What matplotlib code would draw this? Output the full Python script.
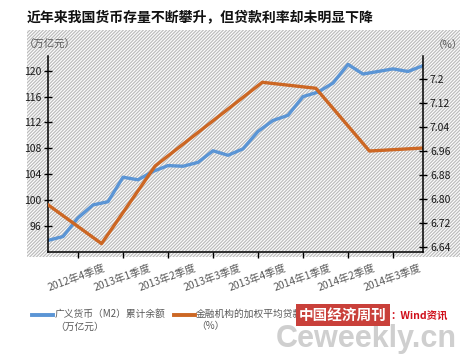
import numpy as np
import matplotlib
matplotlib.use('Agg')
import matplotlib.pyplot as plt
from matplotlib.patches import Rectangle
from matplotlib.lines import Line2D

plt.rcParams['font.family'] = ['Noto Sans CJK SC', 'DejaVu Sans']
plt.rcParams['hatch.linewidth'] = 0.9

# monthly M2 balance (万亿元), Oct 2012 .. Nov 2014
m2 = [93.7, 94.3, 97.2, 99.2, 99.7, 103.5, 103.1, 104.4, 105.3, 105.2,
      105.8, 107.6, 106.9, 107.9, 110.6, 112.3, 113.1, 116.0, 116.7, 118.1,
      121.0, 119.5, 119.9, 120.3, 119.9, 120.8]
# quarterly weighted average lending rate (%)
rate = [6.78, 6.65, 6.91, 7.05, 7.19, 7.17, 6.96, 6.97]
quarters = ['2012年4季度', '2013年1季度', '2013年2季度', '2013年3季度',
            '2013年4季度', '2014年1季度', '2014年2季度', '2014年3季度']
left_ticks = [96, 100, 104, 108, 112, 116, 120]
right_ticks = [6.64, 6.72, 6.80, 6.88, 6.96, 7.04, 7.12, 7.2]
right_labels = ['6.64', '6.72', '6.80', '6.88', '6.96', '7.04', '7.12', '7.2']

title = '近年来我国货币存量不断攀升，但贷款利率却未明显下降'
label_m2 = '广义货币（M2）累计余额\n（万亿元）'
label_rate = '金融机构的加权平均贷款利率\n（%）'

BLUE = '#5b95d5'
ORANGE = '#cc6724'
GREY = '#595959'

W, H = 464, 357
fig = plt.figure(figsize=(W / 100, H / 100), dpi=100)


def fx(px):
    return px / W


def fy(py):
    return 1 - py / H


# hatched background panel
bg = Rectangle((fx(27), fy(257)), fx(460) - fx(27), fy(30) - fy(257),
               transform=fig.transFigure, facecolor='white',
               edgecolor='#bdbdbd', hatch='//////////', linewidth=0,
               zorder=-10)
fig.patches.append(bg)

rect = [fx(48), fy(252), fx(423) - fx(48), fy(56) - fy(252)]
ax = fig.add_axes(rect, zorder=2)
ax.patch.set_visible(False)
months = np.arange(len(m2))
ax.plot(months, m2, color=BLUE, lw=2.4, solid_joinstyle='round')
ax.set_xlim(0, len(m2) - 1)
ax.set_ylim(91.9, 122.3)
ax.set_yticks(left_ticks)
ax.set_yticklabels([str(t) for t in left_ticks])
ax.tick_params(axis='y', direction='inout', length=6, width=1,
               labelsize=7.5, labelcolor='#1a1a1a', pad=2)
ax.set_xticks(np.arange(2, len(m2), 3))
ax.set_xticklabels([])
ax.set_xticks(np.arange(3.7, len(m2), 3), minor=True)
ax.set_xticklabels(quarters, minor=True, rotation=20, ha='right',
                   rotation_mode='anchor', fontsize=7.5, color=GREY)
ax.tick_params(axis='x', which='major', direction='out', length=4, width=1)
ax.tick_params(axis='x', which='minor', length=0, pad=8)
for s in ['top', 'right']:
    ax.spines[s].set_visible(False)
for s in ['left', 'bottom']:
    ax.spines[s].set_linewidth(1.1)

ax_r = fig.add_axes(rect, zorder=3)
ax_r.patch.set_visible(False)
ax_r.plot(np.arange(len(rate)), rate, color=ORANGE, lw=2.4,
          solid_joinstyle='round')
ax_r.set_xlim(0, len(rate) - 1)
ax_r.set_ylim(6.622, 7.278)
ax_r.set_xticks([])
ax_r.yaxis.tick_right()
ax_r.set_yticks(right_ticks)
ax_r.set_yticklabels(right_labels)
ax_r.tick_params(axis='y', direction='inout', length=6, width=1,
                 labelsize=7.5, labelcolor='#1a1a1a', pad=2)
for s in ['top', 'left', 'bottom']:
    ax_r.spines[s].set_visible(False)
ax_r.spines['right'].set_linewidth(1.1)

# title and unit labels
fig.text(fx(27), fy(17), title, fontsize=10, fontweight='bold',
         color='#111111', va='center', ha='left')
fig.text(fx(24), fy(45), '（万亿元）', fontsize=7.5, color=GREY,
         va='center', ha='left')
fig.text(fx(463), fy(45), '（%）', fontsize=7.5, color=GREY,
         va='center', ha='right')

# legend
fig.add_artist(Line2D([fx(32), fx(53)], [fy(315), fy(315)],
                      transform=fig.transFigure, color=BLUE, lw=2.8))
fig.text(fx(55), fy(309), label_m2, fontsize=7, color=GREY,
         va='top', ha='left', linespacing=1.3)
fig.add_artist(Line2D([fx(174), fx(195)], [fy(315), fy(315)],
                      transform=fig.transFigure, color=ORANGE, lw=2.8))
fig.text(fx(196), fy(309), label_rate, fontsize=7, color=GREY,
         va='top', ha='left', linespacing=1.3)

# watermark
fig.text(fx(276), fy(347), 'Ceweekly.cn', fontsize=22, fontweight='bold',
         family=['Liberation Sans Narrow', 'Liberation Sans'],
         color='#cfcfcf', va='baseline', ha='left', zorder=5)
fig.text(fx(343), fy(315), '中国经济周刊', fontsize=10.5, fontweight='bold',
         color='white', va='center', ha='center', zorder=6,
         bbox=dict(boxstyle='square,pad=0.2', facecolor='#c9403a',
                   edgecolor='none'))
fig.text(fx(390), fy(316), '：Wind资讯', fontsize=7.5, fontweight='bold',
         style='italic', color='#d0101b', va='center', ha='left', zorder=6)

fig.savefig('out.png', dpi=100)
